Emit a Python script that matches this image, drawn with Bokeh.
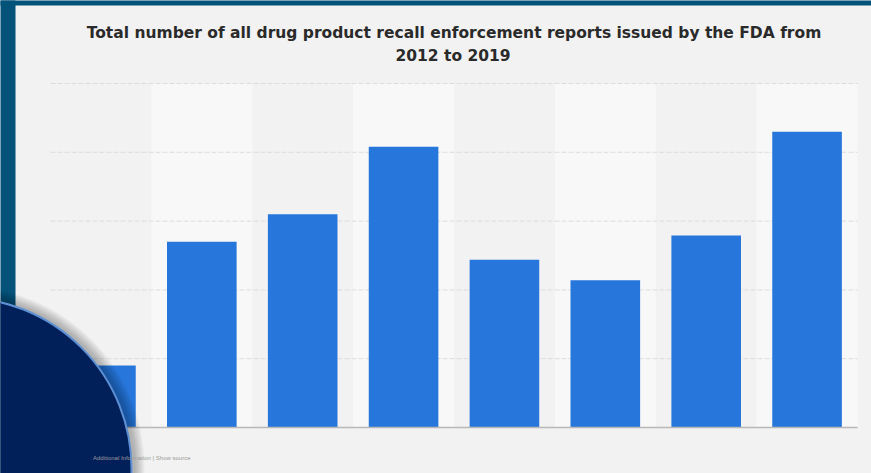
from bokeh.plotting import figure
from bokeh.models import Range1d, Label
from bokeh.embed import file_html
from bokeh.resources import INLINE

# ---- data ----
years = ["2012", "2013", "2014", "2015", "2016", "2017", "2018", "2019"]
reports = [450, 1350, 1550, 2040, 1220, 1070, 1395, 2150]
grid_ticks = [0, 500, 1000, 1500, 2000, 2500]
title_lines = ["Total number of all drug product recall enforcement reports issued by the FDA from",
               "2012 to 2019"]
source_text = "Additional Information | Show source"

# ---- layout (figure pixels) ----
W, H = 871, 473
PL, PR, PT, PB = 50, 857, 83, 427
n = len(years)
SX = (PR - PL) / n
x_start = -0.5 - PL / SX
x_end = x_start + W / SX
y_max = grid_ticks[-1]
SY = (PB - PT) / y_max
y_end = y_max + PT / SY
y_start = y_end - H / SY


def px_x(px):
    return x_start + px / SX


def px_y(py):
    return y_end - py / SY


p = figure(width=W, height=H, x_range=Range1d(x_start, x_end), y_range=Range1d(y_start, y_end),
           x_axis_type=None, y_axis_type=None, toolbar_location=None, output_backend="svg",
           min_border=0, background_fill_color="#f2f2f2", border_fill_color="#f2f2f2")
p.outline_line_color = None
p.title.visible = False

idx = list(range(n))
band_x = [i for i in idx if i % 2 == 1]
p.vbar(x=band_x, bottom=grid_ticks[0], top=grid_ticks[-1], width=1, fill_color="#f8f8f8", line_color=None)

p.segment(x0=[-0.5] * (len(grid_ticks) - 1), x1=[n - 0.5] * (len(grid_ticks) - 1),
          y0=grid_ticks[1:], y1=grid_ticks[1:], line_color="#dcdcdc", line_width=1, line_dash="5 2")

p.vbar(x=idx, top=reports, bottom=0, width=0.69, fill_color="#2776db", line_color=None)

p.segment(x0=[-0.5], x1=[n - 0.5], y0=[grid_ticks[0]], y1=[grid_ticks[0]], line_color="#b8b8b8", line_width=1.5)

# title
for txt, cxp, base in zip(title_lines, [453.5, 452.5], [32.5, 55]):
    p.add_layout(Label(x=px_x(cxp), y=px_y(base), text=txt, text_align="center", text_baseline="alphabetic",
                       text_font="DejaVu Sans", text_font_style="bold", text_font_size="15.5px",
                       text_color="#2a2a2a"))

p.add_layout(Label(x=px_x(190), y=px_y(457), text=source_text, text_align="right", text_baseline="middle",
                   text_font="Liberation Sans", text_font_size="6px", text_color="#9a9a9a"))

# dark frame strips (left and top)
p.quad(left=[x_start - 1], right=[px_x(15)], bottom=[y_start - 1000], top=[y_end + 1000],
       fill_color="#02527a", line_color=None)
p.quad(left=[x_start - 1], right=[x_end + 1], bottom=[px_y(5)], top=[y_end + 1000],
       fill_color="#02527a", line_color=None)

# decorative circle with soft shadow
cx, cy, r = px_x(-40), px_y(468), 171
for k in range(8):
    p.circle(x=[px_x(-40 + 3)], y=[px_y(468 - 1)], radius=r + 1 + k * 1.3, radius_units="screen",
             fill_color="black", fill_alpha=0.035, line_color=None)
p.circle(x=[cx], y=[cy], radius=r, radius_units="screen", fill_color="#01205a",
         line_color="#5d8fd3", line_width=2)

open("out.html", "w").write(file_html(p, INLINE))
